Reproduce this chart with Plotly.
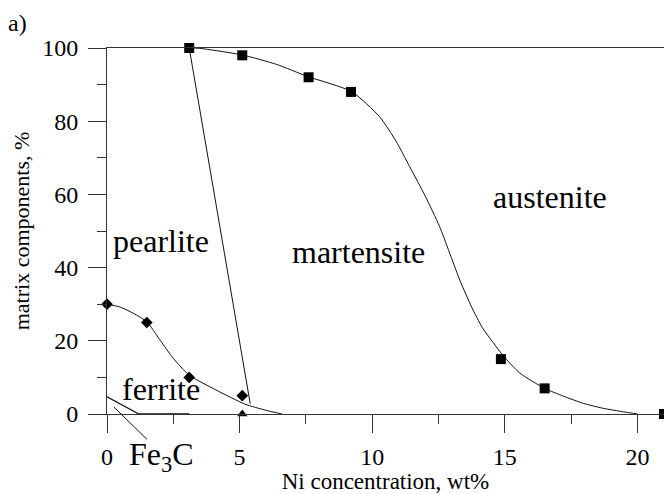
import plotly.graph_objects as go

# --- data ---
sq_x = [3.1, 5.1, 7.6, 9.2, 14.85, 16.5, 21.0]
sq_y = [100, 98, 92, 88, 15, 7, 0]

aus_x = [3.1, 3.5, 5.1, 6.4, 7.57, 9.22, 10.28, 10.9, 11.41, 12.0, 12.54, 13.3, 13.75, 14.15, 14.55, 14.94,
         15.56, 16.5, 17.2, 17.96, 18.71, 19.47, 20.0]
aus_y = [100, 99.9, 98.1, 95.5, 92.2, 88.1, 81.2, 74.5, 67.6, 59.5, 51.2, 36.6, 29.2, 23.6, 19.6, 15.9,
         11.2, 7.0, 4.9, 2.9, 1.55, 0.6, 0]

pm_x = [3.1, 5.4]
pm_y = [100, 2.8]

dia_x = [0, 1.5, 3.1, 5.1]
dia_y = [30, 25, 10, 5]

fer_x = [0, 0.5, 1.0, 1.5, 2.0, 2.5, 3.1, 4.1, 5.2, 6.0, 6.6]
fer_y = [30, 29.2, 27.5, 25.2, 20.2, 15.2, 10.6, 6.6, 2.7, 1.0, 0]

tri_x = [5.1]
tri_y = [0]

fe3c_x = [0, 1.2, 3.1]
fe3c_y = [4.7, 0, 0]

x_ticks = [0, 5, 10, 15, 20]
y_ticks = [0, 20, 40, 60, 80, 100]

labels = ["pearlite", "martensite", "austenite", "ferrite"]
label_x = [2.04, 9.47, 16.7, 2.04]
label_y = [47.4, 44.4, 59.4, 6.8]

FONT = "Liberation Serif"
LC = "#111"

fig = go.Figure()
line = dict(color=LC, width=1)
fig.add_trace(go.Scatter(x=aus_x, y=aus_y, mode="lines",
                         line=dict(color=LC, width=1, shape="spline", smoothing=0.6), hoverinfo="skip"))
fig.add_trace(go.Scatter(x=pm_x, y=pm_y, mode="lines", line=line, hoverinfo="skip"))
fig.add_trace(go.Scatter(x=fer_x, y=fer_y, mode="lines",
                         line=dict(color=LC, width=1, shape="spline", smoothing=0.6), hoverinfo="skip"))
fig.add_trace(go.Scatter(x=fe3c_x, y=fe3c_y, mode="lines", line=dict(color=LC, width=1.3), hoverinfo="skip"))
fig.add_trace(go.Scatter(x=sq_x, y=sq_y, mode="markers", marker=dict(symbol="square", size=10, color="black"),
                         cliponaxis=False))
fig.add_trace(go.Scatter(x=dia_x, y=dia_y, mode="markers", marker=dict(symbol="diamond", size=9, color="black"),
                         cliponaxis=False))
fig.add_trace(go.Scatter(x=tri_x, y=tri_y, mode="markers", marker=dict(symbol="triangle-up", size=9, color="black"),
                         cliponaxis=False))

for t, x, y in zip(labels, label_x, label_y):
    fig.add_annotation(x=x, y=y, text=t, showarrow=False, font=dict(family=FONT, size=32, color="black"),
                       xanchor="center", yanchor="middle")

fig.add_annotation(x=2.07, y=-0.115, yref="paper", text="Fe<sub>3</sub>C", showarrow=False,
                   font=dict(family=FONT, size=32, color="black"), xanchor="center", yanchor="middle")
fig.add_annotation(x=0.26, y=1.9, ax=1.56, ay=-7.3, axref="x", ayref="y", text=" ",
                   showarrow=True, arrowhead=0, arrowwidth=1, arrowcolor=LC, standoff=0, startstandoff=0,
                   font=dict(size=1))
fig.add_annotation(xref="paper", yref="paper", x=-101/557, y=1 + 40/366, xanchor="left", yanchor="top",
                   text="a)", showarrow=False, font=dict(family=FONT, size=24, color="black"))

fig.update_layout(
    width=664, height=494,
    margin=dict(l=107, r=0, t=48, b=80),
    paper_bgcolor="white", plot_bgcolor="white",
    showlegend=False,
    font=dict(family=FONT, size=22, color="black"),
    xaxis=dict(range=[0, 21], tickvals=x_ticks, ticks="outside", ticklen=18, tickcolor="#333",
               showline=True, linecolor="#333", linewidth=1, mirror=True, showgrid=False, zeroline=False,
               minor=dict(tickvals=[2.5, 7.5, 12.5, 17.5], ticks="outside", ticklen=9, tickcolor="#333"),
               tickfont=dict(family=FONT, size=24, color="black"), ticklabelstandoff=3,
               title=dict(text="Ni concentration, wt%", font=dict(family=FONT, size=23, color="black"), standoff=0)),
    yaxis=dict(range=[0, 100], tickvals=y_ticks, ticks="outside", ticklen=18, tickcolor="#333",
               showline=True, linecolor="#333", linewidth=1, mirror=True, showgrid=False, zeroline=False,
               minor=dict(tickvals=[10, 30, 50, 70, 90], ticks="outside", ticklen=9, tickcolor="#333"),
               tickfont=dict(family=FONT, size=24, color="black"), ticklabelstandoff=5,
               title=dict(text="matrix components, %", font=dict(family=FONT, size=22, color="black"), standoff=6)),
)

fig.write_html("out.html")
